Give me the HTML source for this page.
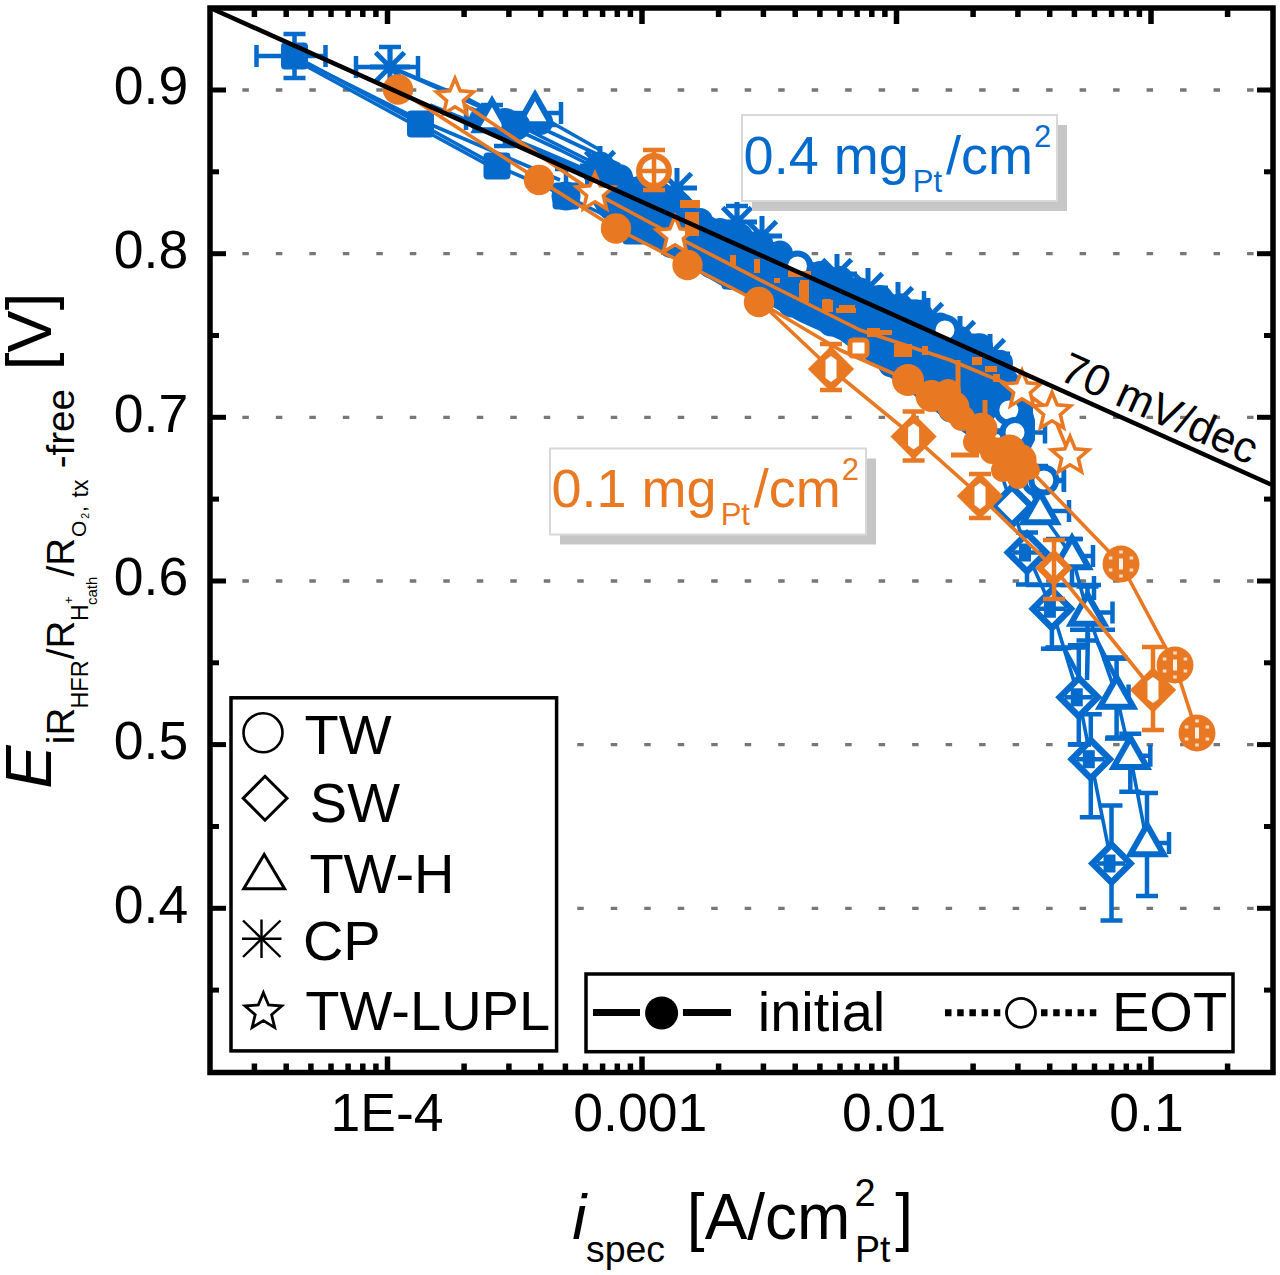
<!DOCTYPE html>
<html><head><meta charset="utf-8"><style>
html,body{margin:0;padding:0;background:#fff;}
svg{display:block;}
</style></head><body>
<svg width="1280" height="1275" viewBox="0 0 1280 1275">
<rect width="1280" height="1275" fill="#fff"/>
<line x1="242.35" y1="908.3" x2="1255" y2="908.3" stroke="#777" stroke-width="3.3" stroke-dasharray="6.5 26.99"/>
<line x1="242.35" y1="744.6" x2="1255" y2="744.6" stroke="#777" stroke-width="3.3" stroke-dasharray="6.5 26.99"/>
<line x1="242.35" y1="581.0" x2="1255" y2="581.0" stroke="#777" stroke-width="3.3" stroke-dasharray="6.5 26.99"/>
<line x1="242.35" y1="417.3" x2="1255" y2="417.3" stroke="#777" stroke-width="3.3" stroke-dasharray="6.5 26.99"/>
<line x1="242.35" y1="253.7" x2="1255" y2="253.7" stroke="#777" stroke-width="3.3" stroke-dasharray="6.5 26.99"/>
<line x1="242.35" y1="90.0" x2="1255" y2="90.0" stroke="#777" stroke-width="3.3" stroke-dasharray="6.5 26.99"/>
<path d="M585,175 L600,160 L640,180 L680,199 L720,221 L760,234 L800,257 L850,276 L900,297 L950,323 L1000,352 L1025,385 L1035,420 L1035,440 L1020,470 L995,455 L960,430 L920,400 L880,370 L840,340 L800,322 L760,300 L720,285 L680,262 L640,240 L600,215 L585,190 Z" fill="#046bcc"/>
<circle cx="600" cy="166.4" r="13" fill="#046bcc"/>
<circle cx="611" cy="207.3" r="13" fill="#046bcc"/>
<circle cx="620" cy="177.2" r="13" fill="#046bcc"/>
<circle cx="631" cy="220.1" r="13" fill="#046bcc"/>
<circle cx="640" cy="188.8" r="13" fill="#046bcc"/>
<circle cx="651" cy="229.4" r="13" fill="#046bcc"/>
<circle cx="660" cy="194.6" r="13" fill="#046bcc"/>
<circle cx="671" cy="245.0" r="13" fill="#046bcc"/>
<circle cx="680" cy="205.6" r="13" fill="#046bcc"/>
<circle cx="691" cy="252.4" r="13" fill="#046bcc"/>
<circle cx="700" cy="221.0" r="13" fill="#046bcc"/>
<circle cx="711" cy="265.3" r="13" fill="#046bcc"/>
<circle cx="720" cy="231.0" r="13" fill="#046bcc"/>
<circle cx="731" cy="276.9" r="13" fill="#046bcc"/>
<circle cx="740" cy="236.3" r="13" fill="#046bcc"/>
<circle cx="751" cy="282.4" r="13" fill="#046bcc"/>
<circle cx="760" cy="242.8" r="13" fill="#046bcc"/>
<circle cx="771" cy="294.2" r="13" fill="#046bcc"/>
<circle cx="780" cy="253.6" r="13" fill="#046bcc"/>
<circle cx="791" cy="304.4" r="13" fill="#046bcc"/>
<circle cx="800" cy="266.0" r="13" fill="#046bcc"/>
<circle cx="811" cy="311.4" r="13" fill="#046bcc"/>
<circle cx="820" cy="274.1" r="13" fill="#046bcc"/>
<circle cx="831" cy="323.5" r="13" fill="#046bcc"/>
<circle cx="840" cy="279.0" r="13" fill="#046bcc"/>
<circle cx="851" cy="329.2" r="13" fill="#046bcc"/>
<circle cx="860" cy="290.4" r="13" fill="#046bcc"/>
<circle cx="871" cy="346.8" r="13" fill="#046bcc"/>
<circle cx="880" cy="297.9" r="13" fill="#046bcc"/>
<circle cx="891" cy="364.3" r="13" fill="#046bcc"/>
<circle cx="900" cy="306.3" r="13" fill="#046bcc"/>
<circle cx="911" cy="379.5" r="13" fill="#046bcc"/>
<circle cx="920" cy="314.8" r="13" fill="#046bcc"/>
<circle cx="931" cy="393.8" r="13" fill="#046bcc"/>
<circle cx="940" cy="325.5" r="13" fill="#046bcc"/>
<circle cx="951" cy="409.6" r="13" fill="#046bcc"/>
<circle cx="960" cy="339.1" r="13" fill="#046bcc"/>
<circle cx="971" cy="419.6" r="13" fill="#046bcc"/>
<circle cx="980" cy="346.2" r="13" fill="#046bcc"/>
<circle cx="991" cy="434.6" r="13" fill="#046bcc"/>
<circle cx="1000" cy="362.8" r="13" fill="#046bcc"/>
<circle cx="1011" cy="449.6" r="13" fill="#046bcc"/>
<path d="M294.5,56.0 L420.5,124.0 L497.0,166.0 L566.0,196.0 L636.0,231.0 L735.0,276.0" fill="none" stroke="#046bcc" stroke-width="3.6" stroke-linejoin="round"/>
<path d="M256.5,56.0 L294.5,56.0 M256.5,45.0 L256.5,67.0 M294.5,56.0 L325.5,56.0 M325.5,45.0 L325.5,67.0 M294.5,56.0 L294.5,34.0 M283.5,34.0 L305.5,34.0 M294.5,56.0 L294.5,78.0 M283.5,78.0 L305.5,78.0" fill="none" stroke="#046bcc" stroke-width="4.5"/>
<rect x="281.0" y="42.5" width="27.0" height="27.0" rx="4" fill="#046bcc"/>
<rect x="407.0" y="110.5" width="27.0" height="27.0" rx="4" fill="#046bcc"/>
<rect x="483.5" y="152.5" width="27.0" height="27.0" rx="4" fill="#046bcc"/>
<rect x="552.5" y="182.5" width="27.0" height="27.0" rx="4" fill="#046bcc"/>
<rect x="622.5" y="217.5" width="27.0" height="27.0" rx="4" fill="#046bcc"/>
<rect x="721.5" y="262.5" width="27.0" height="27.0" rx="4" fill="#046bcc"/>
<path d="M300.0,60.0 L420.0,120.0 L560.0,180.0" fill="none" stroke="#046bcc" stroke-width="3.6" stroke-linejoin="round"/>
<path d="M390.0,67.0 L470.0,100.0 L512.0,122.0 L600.0,166.0" fill="none" stroke="#046bcc" stroke-width="3.6" stroke-linejoin="round"/>
<path d="M390.0,67.0 L492.0,112.0 L535.0,113.0 L600.0,150.0" fill="none" stroke="#046bcc" stroke-width="3.6" stroke-linejoin="round"/>
<path d="M295.0,60.0 L497.0,170.0" fill="none" stroke="#046bcc" stroke-width="3.6" stroke-linejoin="round"/>
<path d="M470.0,108.0 L560.0,150.0 L640.0,190.0" fill="none" stroke="#046bcc" stroke-width="3.6" stroke-linejoin="round"/>
<path d="M480.0,125.0 L600.0,180.0 L700.0,225.0" fill="none" stroke="#046bcc" stroke-width="3.6" stroke-linejoin="round"/>
<path d="M520.0,118.0 L620.0,165.0" fill="none" stroke="#046bcc" stroke-width="3.6" stroke-linejoin="round"/>
<path d="M430.0,105.0 L540.0,150.0 L610.0,180.0" fill="none" stroke="#046bcc" stroke-width="3.6" stroke-linejoin="round"/>
<circle cx="505.0" cy="124.0" r="16.0" fill="#046bcc"/>
<circle cx="482.0" cy="120.0" r="13.1" fill="#046bcc"/>
<circle cx="540.0" cy="122.0" r="13.1" fill="#046bcc"/>
<path d="M466.0,119.0 L492.0,119.0 M466.0,108.0 L466.0,130.0 M492.0,119.0 L492.0,105.0 M481.0,105.0 L503.0,105.0" fill="none" stroke="#046bcc" stroke-width="4.5"/>
<path d="M535.0,113.0 L561.0,113.0 M561.0,102.0 L561.0,124.0 M535.0,113.0 L535.0,127.0 M524.0,127.0 L546.0,127.0" fill="none" stroke="#046bcc" stroke-width="4.5"/>
<path d="M492.0,101.0 L508.6,130.2 L475.4,130.2 Z" fill="#fff" stroke="#046bcc" stroke-width="6" stroke-linejoin="miter"/>
<path d="M535.0,95.0 L551.6,124.2 L518.4,124.2 Z" fill="#fff" stroke="#046bcc" stroke-width="6" stroke-linejoin="miter"/>
<circle cx="516.0" cy="126.0" r="14.5" fill="#046bcc"/>
<path d="M505.0,124.0 L505.0,146.0 M494.0,146.0 L516.0,146.0" fill="none" stroke="#046bcc" stroke-width="4.5"/>
<circle cx="600.0" cy="166.0" r="14.5" fill="#046bcc"/>
<path d="M600.0,146.0 L600.0,186.0 M580.0,166.0 L620.0,166.0 M585.6,151.6 L614.4,180.4 M585.6,180.4 L614.4,151.6" stroke="#046bcc" stroke-width="5"/>
<circle cx="566.0" cy="196.0" r="14.5" fill="#046bcc"/>
<path d="M566.0,196.0 L566.0,169.0 M555.0,169.0 L577.0,169.0" fill="none" stroke="#046bcc" stroke-width="4.5"/>
<path d="M356.0,67.0 L390.0,67.0 M356.0,56.0 L356.0,78.0 M390.0,67.0 L418.0,67.0 M418.0,56.0 L418.0,78.0 M390.0,67.0 L390.0,47.0 M379.0,47.0 L401.0,47.0" fill="none" stroke="#046bcc" stroke-width="4.5"/>
<path d="M390.0,47.0 L390.0,87.0 M370.0,67.0 L410.0,67.0 M375.6,52.6 L404.4,81.4 M375.6,81.4 L404.4,52.6" stroke="#046bcc" stroke-width="5"/>
<path d="M677.0,168.0 L677.0,208.0 M657.0,188.0 L697.0,188.0 M662.6,173.6 L691.4,202.4 M662.6,202.4 L691.4,173.6" stroke="#046bcc" stroke-width="5"/>
<path d="M737.0,202.0 L737.0,242.0 M717.0,222.0 L757.0,222.0 M722.6,207.6 L751.4,236.4 M722.6,236.4 L751.4,207.6" stroke="#046bcc" stroke-width="5"/>
<path d="M762.0,216.0 L762.0,256.0 M742.0,236.0 L782.0,236.0 M747.6,221.6 L776.4,250.4 M747.6,250.4 L776.4,221.6" stroke="#046bcc" stroke-width="5"/>
<path d="M837.0,254.0 L837.0,294.0 M817.0,274.0 L857.0,274.0 M822.6,259.6 L851.4,288.4 M822.6,288.4 L851.4,259.6" stroke="#046bcc" stroke-width="5"/>
<path d="M868.0,268.0 L868.0,308.0 M848.0,288.0 L888.0,288.0 M853.6,273.6 L882.4,302.4 M853.6,302.4 L882.4,273.6" stroke="#046bcc" stroke-width="5"/>
<path d="M898.0,282.0 L898.0,322.0 M878.0,302.0 L918.0,302.0 M883.6,287.6 L912.4,316.4 M883.6,316.4 L912.4,287.6" stroke="#046bcc" stroke-width="5"/>
<path d="M928.0,298.0 L928.0,338.0 M908.0,318.0 L948.0,318.0 M913.6,303.6 L942.4,332.4 M913.6,332.4 L942.4,303.6" stroke="#046bcc" stroke-width="5"/>
<path d="M960.0,316.0 L960.0,356.0 M940.0,336.0 L980.0,336.0 M945.6,321.6 L974.4,350.4 M945.6,350.4 L974.4,321.6" stroke="#046bcc" stroke-width="5"/>
<path d="M990.0,334.0 L990.0,374.0 M970.0,354.0 L1010.0,354.0 M975.6,339.6 L1004.4,368.4 M975.6,368.4 L1004.4,339.6" stroke="#046bcc" stroke-width="5"/>
<path d="M872.0,302.0 L898.0,302.0 M872.0,291.0 L872.0,313.0 M898.0,302.0 L924.0,302.0 M924.0,291.0 L924.0,313.0" fill="none" stroke="#046bcc" stroke-width="4.5"/>
<path d="M737.0,222.0 L737.0,206.0 M726.0,206.0 L748.0,206.0" fill="none" stroke="#046bcc" stroke-width="4.5"/>
<circle cx="797.5" cy="266.0" r="12.5" fill="#fff" stroke="#046bcc" stroke-width="6"/>
<circle cx="945.0" cy="330.0" r="12.5" fill="#fff" stroke="#046bcc" stroke-width="6"/>
<path d="M990.0,440.0 L1012.0,506.0 L1027.0,552.5 L1051.9,608.8 L1078.8,697.3 L1090.8,759.2 L1111.5,863.5" fill="none" stroke="#046bcc" stroke-width="3.6" stroke-linejoin="round"/>
<path d="M1027.0,552.5 L1027.0,532.5 M1016.0,532.5 L1038.0,532.5 M1027.0,552.5 L1027.0,584.5 M1016.0,584.5 L1038.0,584.5" fill="none" stroke="#046bcc" stroke-width="4.5"/>
<path d="M1051.9,608.8 L1051.9,558.8 M1040.9,558.8 L1062.9,558.8 M1051.9,608.8 L1051.9,648.8 M1040.9,648.8 L1062.9,648.8" fill="none" stroke="#046bcc" stroke-width="4.5"/>
<path d="M1078.8,697.3 L1078.8,645.3 M1067.8,645.3 L1089.8,645.3 M1078.8,697.3 L1078.8,744.3 M1067.8,744.3 L1089.8,744.3" fill="none" stroke="#046bcc" stroke-width="4.5"/>
<path d="M1090.8,759.2 L1090.8,714.2 M1079.8,714.2 L1101.8,714.2 M1090.8,759.2 L1090.8,817.2 M1079.8,817.2 L1101.8,817.2" fill="none" stroke="#046bcc" stroke-width="4.5"/>
<path d="M1111.5,863.5 L1111.5,805.5 M1100.5,805.5 L1122.5,805.5 M1111.5,863.5 L1111.5,920.5 M1100.5,920.5 L1122.5,920.5" fill="none" stroke="#046bcc" stroke-width="4.5"/>
<path d="M990.0,421.0 L1009.0,440.0 L990.0,459.0 L971.0,440.0 Z" fill="#fff" stroke="#046bcc" stroke-width="6.5" stroke-linejoin="miter"/>
<path d="M1012.0,487.0 L1031.0,506.0 L1012.0,525.0 L993.0,506.0 Z" fill="#fff" stroke="#046bcc" stroke-width="6.5" stroke-linejoin="miter"/>
<path d="M1027.0,533.5 L1046.0,552.5 L1027.0,571.5 L1008.0,552.5 Z" fill="#fff" stroke="#046bcc" stroke-width="6.5" stroke-linejoin="miter"/>
<path d="M1051.9,589.8 L1070.9,608.8 L1051.9,627.8 L1032.9,608.8 Z" fill="#fff" stroke="#046bcc" stroke-width="6.5" stroke-linejoin="miter"/>
<path d="M1078.8,678.3 L1097.8,697.3 L1078.8,716.3 L1059.8,697.3 Z" fill="#fff" stroke="#046bcc" stroke-width="6.5" stroke-linejoin="miter"/>
<path d="M1090.8,740.2 L1109.8,759.2 L1090.8,778.2 L1071.8,759.2 Z" fill="#fff" stroke="#046bcc" stroke-width="6.5" stroke-linejoin="miter"/>
<path d="M1111.5,844.5 L1130.5,863.5 L1111.5,882.5 L1092.5,863.5 Z" fill="#fff" stroke="#046bcc" stroke-width="6.5" stroke-linejoin="miter"/>
<path d="M1013.0,552.5 L1027.0,552.5 M1013.0,552.5 L1013.0,552.5 M1027.0,552.5 L1041.0,552.5 M1041.0,552.5 L1041.0,552.5" fill="none" stroke="#046bcc" stroke-width="4.5"/>
<rect x="1019" y="543.5" width="12" height="18" fill="#046bcc"/>
<path d="M1037.9,608.8 L1051.9,608.8 M1037.9,608.8 L1037.9,608.8 M1051.9,608.8 L1065.9,608.8 M1065.9,608.8 L1065.9,608.8" fill="none" stroke="#046bcc" stroke-width="4.5"/>
<rect x="1043.9" y="599.75" width="12" height="18" fill="#046bcc"/>
<path d="M1064.8,697.3 L1078.8,697.3 M1064.8,697.3 L1064.8,697.3 M1078.8,697.3 L1092.8,697.3 M1092.8,697.3 L1092.8,697.3" fill="none" stroke="#046bcc" stroke-width="4.5"/>
<rect x="1070.75" y="688.3" width="12" height="18" fill="#046bcc"/>
<path d="M1076.8,759.2 L1090.8,759.2 M1076.8,759.2 L1076.8,759.2 M1090.8,759.2 L1104.8,759.2 M1104.8,759.2 L1104.8,759.2" fill="none" stroke="#046bcc" stroke-width="4.5"/>
<rect x="1082.8" y="750.2" width="12" height="18" fill="#046bcc"/>
<path d="M1097.5,863.5 L1111.5,863.5 M1097.5,863.5 L1097.5,863.5 M1111.5,863.5 L1125.5,863.5 M1125.5,863.5 L1125.5,863.5" fill="none" stroke="#046bcc" stroke-width="4.5"/>
<rect x="1103.5" y="854.5" width="12" height="18" fill="#046bcc"/>
<path d="M1000.0,420.0 L1040.0,511.0 L1072.0,556.0 L1087.5,612.5 L1116.6,695.6 L1130.3,755.8 L1147.0,843.0" fill="none" stroke="#046bcc" stroke-width="3.6" stroke-linejoin="round"/>
<path d="M1040.0,511.0 L1069.0,511.0 M1069.0,500.0 L1069.0,522.0" fill="none" stroke="#046bcc" stroke-width="4.5"/>
<path d="M1072.0,556.0 L1093.0,556.0 M1093.0,545.0 L1093.0,567.0 M1072.0,556.0 L1072.0,539.0 M1061.0,539.0 L1083.0,539.0 M1072.0,556.0 L1072.0,585.0 M1061.0,585.0 L1083.0,585.0" fill="none" stroke="#046bcc" stroke-width="4.5"/>
<path d="M1087.5,612.5 L1112.5,612.5 M1112.5,601.5 L1112.5,623.5 M1087.5,612.5 L1087.5,586.5 M1076.5,586.5 L1098.5,586.5 M1087.5,612.5 L1087.5,640.5 M1076.5,640.5 L1098.5,640.5" fill="none" stroke="#046bcc" stroke-width="4.5"/>
<path d="M1116.6,695.6 L1128.6,695.6 M1128.6,684.6 L1128.6,706.6 M1116.6,695.6 L1116.6,657.6 M1105.6,657.6 L1127.6,657.6 M1116.6,695.6 L1116.6,737.6 M1105.6,737.6 L1127.6,737.6" fill="none" stroke="#046bcc" stroke-width="4.5"/>
<path d="M1130.3,755.8 L1150.3,755.8 M1150.3,744.8 L1150.3,766.8 M1130.3,755.8 L1130.3,733.8 M1119.3,733.8 L1141.3,733.8 M1130.3,755.8 L1130.3,791.8 M1119.3,791.8 L1141.3,791.8" fill="none" stroke="#046bcc" stroke-width="4.5"/>
<path d="M1147.0,843.0 L1169.0,843.0 M1169.0,832.0 L1169.0,854.0 M1147.0,843.0 L1147.0,793.0 M1136.0,793.0 L1158.0,793.0 M1147.0,843.0 L1147.0,896.0 M1136.0,896.0 L1158.0,896.0" fill="none" stroke="#046bcc" stroke-width="4.5"/>
<path d="M1000.0,402.0 L1016.6,431.2 L983.4,431.2 Z" fill="#fff" stroke="#046bcc" stroke-width="6" stroke-linejoin="miter"/>
<path d="M1040.0,493.0 L1056.6,522.2 L1023.4,522.2 Z" fill="#fff" stroke="#046bcc" stroke-width="6" stroke-linejoin="miter"/>
<path d="M1072.0,538.0 L1088.6,567.2 L1055.4,567.2 Z" fill="#fff" stroke="#046bcc" stroke-width="6" stroke-linejoin="miter"/>
<path d="M1087.5,594.5 L1104.1,623.7 L1070.9,623.7 Z" fill="#fff" stroke="#046bcc" stroke-width="6" stroke-linejoin="miter"/>
<path d="M1116.6,677.6 L1133.2,706.8 L1100.0,706.8 Z" fill="#fff" stroke="#046bcc" stroke-width="6" stroke-linejoin="miter"/>
<path d="M1130.3,737.8 L1146.9,767.0 L1113.7,767.0 Z" fill="#fff" stroke="#046bcc" stroke-width="6" stroke-linejoin="miter"/>
<path d="M1147.0,825.0 L1163.6,854.2 L1130.4,854.2 Z" fill="#fff" stroke="#046bcc" stroke-width="6" stroke-linejoin="miter"/>
<path d="M985.0,392.0 L1008.8,410.0" fill="none" stroke="#046bcc" stroke-width="3.6" stroke-linejoin="round"/>
<circle cx="985.0" cy="392.0" r="14.5" fill="#046bcc"/>
<path d="M1008.8,410.0 L1015.0,432.5 L1037.0,481.0 L1043.8,480.0" fill="none" stroke="#046bcc" stroke-width="3.6" stroke-linejoin="round"/>
<path d="M1008.8,410.0 L1030.8,410.0 M1030.8,399.0 L1030.8,421.0" fill="none" stroke="#046bcc" stroke-width="4.5"/>
<path d="M1015.0,432.5 L1045.0,432.5 M1045.0,421.5 L1045.0,443.5" fill="none" stroke="#046bcc" stroke-width="4.5"/>
<path d="M1037.0,481.0 L1064.0,481.0 M1064.0,470.0 L1064.0,492.0 M1037.0,481.0 L1037.0,466.0 M1026.0,466.0 L1048.0,466.0" fill="none" stroke="#046bcc" stroke-width="4.5"/>
<path d="M1043.8,480.0 L1063.8,480.0 M1063.8,469.0 L1063.8,491.0" fill="none" stroke="#046bcc" stroke-width="4.5"/>
<circle cx="1008.8" cy="410.0" r="12.5" fill="#fff" stroke="#046bcc" stroke-width="6"/>
<circle cx="1015.0" cy="432.5" r="12.5" fill="#fff" stroke="#046bcc" stroke-width="6"/>
<circle cx="1037.0" cy="481.0" r="12.5" fill="#fff" stroke="#046bcc" stroke-width="6"/>
<circle cx="1043.8" cy="480.0" r="12.5" fill="#fff" stroke="#046bcc" stroke-width="6"/>
<line x1="1026" y1="585" x2="1101" y2="585" stroke="#046bcc" stroke-width="4.5"/>
<line x1="1046" y1="539" x2="1082" y2="539" stroke="#046bcc" stroke-width="4.5"/>
<line x1="1046" y1="647.5" x2="1089" y2="647.5" stroke="#046bcc" stroke-width="4.5"/>
<line x1="1104" y1="658.7" x2="1127" y2="658.7" stroke="#046bcc" stroke-width="4.5"/>
<line x1="1068" y1="744.6" x2="1091" y2="744.6" stroke="#046bcc" stroke-width="4.5"/>
<line x1="1105" y1="738.6" x2="1130" y2="738.6" stroke="#046bcc" stroke-width="4.5"/>
<line x1="1045" y1="648" x2="1071" y2="648" stroke="#046bcc" stroke-width="4.5"/>
<line x1="1070" y1="629.7" x2="1115" y2="629.7" stroke="#046bcc" stroke-width="4.5"/>
<line x1="1102" y1="658" x2="1127" y2="658" stroke="#046bcc" stroke-width="4.5"/>
<line x1="1065" y1="650" x2="1081" y2="680" stroke="#046bcc" stroke-width="4.5"/>
<line x1="1096" y1="639" x2="1117" y2="680" stroke="#046bcc" stroke-width="4.5"/>
<line x1="1088" y1="633" x2="1087" y2="680" stroke="#046bcc" stroke-width="4.5"/>
<line x1="1055" y1="569" x2="1055" y2="585" stroke="#046bcc" stroke-width="4.5"/>
<line x1="1094" y1="576" x2="1094" y2="600" stroke="#046bcc" stroke-width="4.5"/>
<path d="M398.0,89.5 L539.0,180.0 L616.0,228.5 L687.5,265.0 L759.0,302.0" fill="none" stroke="#e97823" stroke-width="3.6" stroke-linejoin="round"/>
<circle cx="398.0" cy="89.5" r="15.2" fill="#e97823"/>
<circle cx="539.0" cy="180.0" r="15.2" fill="#e97823"/>
<circle cx="616.0" cy="228.5" r="15.2" fill="#e97823"/>
<circle cx="687.5" cy="265.0" r="15.2" fill="#e97823"/>
<circle cx="759.0" cy="302.0" r="15.2" fill="#e97823"/>
<path d="M759.0,302.0 L840.0,350.0 L908.0,380.0" fill="none" stroke="#e97823" stroke-width="3.6" stroke-linejoin="round"/>
<path d="M908.0,380.0 L931.5,396.0 L953.4,407.0 L981.5,428.8 L1009.7,450.6 L1020.6,460.0" fill="none" stroke="#e97823" stroke-width="3.6" stroke-linejoin="round"/>
<circle cx="908.0" cy="380.0" r="16.0" fill="#e97823"/>
<circle cx="931.5" cy="396.0" r="16.0" fill="#e97823"/>
<circle cx="953.4" cy="407.0" r="16.0" fill="#e97823"/>
<circle cx="981.5" cy="428.8" r="16.0" fill="#e97823"/>
<circle cx="1009.7" cy="450.6" r="16.0" fill="#e97823"/>
<circle cx="1020.6" cy="460.0" r="16.0" fill="#e97823"/>
<circle cx="948" cy="392" r="13" fill="#e97823"/>
<circle cx="962" cy="418" r="13" fill="#e97823"/>
<circle cx="975" cy="442" r="12" fill="#e97823"/>
<circle cx="992" cy="452" r="12" fill="#e97823"/>
<circle cx="1003" cy="470" r="12" fill="#e97823"/>
<circle cx="1018" cy="478" r="11" fill="#e97823"/>
<circle cx="1030" cy="470" r="10" fill="#e97823"/>
<rect x="955.5" y="360.0" width="5" height="40" fill="#e97823"/>
<rect x="982.5" y="400.0" width="5" height="40" fill="#e97823"/>
<rect x="990.0" y="437.5" width="20" height="5" fill="#e97823"/>
<rect x="999.0" y="467.5" width="22" height="5" fill="#e97823"/>
<rect x="951.0" y="452.5" width="28" height="5" fill="#e97823"/>
<path d="M1020.6,460.0 L1121.0,564.0 L1175.0,665.0 L1197.0,733.0" fill="none" stroke="#e97823" stroke-width="3.6" stroke-linejoin="round"/>
<circle cx="1121" cy="564" r="18.5" fill="#e97823"/>
<rect x="1119" y="558.5" width="4" height="11" fill="#fff" opacity="0.9"/>
<rect x="1129.6" y="568.5" width="3.6" height="3" fill="#fff" opacity="0.75"/>
<rect x="1119.2" y="574.5" width="3.6" height="3" fill="#fff" opacity="0.75"/>
<rect x="1108.8" y="568.5" width="3.6" height="3" fill="#fff" opacity="0.75"/>
<rect x="1108.8" y="556.5" width="3.6" height="3" fill="#fff" opacity="0.75"/>
<rect x="1119.2" y="550.5" width="3.6" height="3" fill="#fff" opacity="0.75"/>
<rect x="1129.6" y="556.5" width="3.6" height="3" fill="#fff" opacity="0.75"/>
<circle cx="1175" cy="665" r="18.5" fill="#e97823"/>
<rect x="1173" y="659.5" width="4" height="11" fill="#fff" opacity="0.9"/>
<rect x="1183.6" y="669.5" width="3.6" height="3" fill="#fff" opacity="0.75"/>
<rect x="1173.2" y="675.5" width="3.6" height="3" fill="#fff" opacity="0.75"/>
<rect x="1162.8" y="669.5" width="3.6" height="3" fill="#fff" opacity="0.75"/>
<rect x="1162.8" y="657.5" width="3.6" height="3" fill="#fff" opacity="0.75"/>
<rect x="1173.2" y="651.5" width="3.6" height="3" fill="#fff" opacity="0.75"/>
<rect x="1183.6" y="657.5" width="3.6" height="3" fill="#fff" opacity="0.75"/>
<circle cx="1197" cy="733" r="18.5" fill="#e97823"/>
<rect x="1195" y="727.5" width="4" height="11" fill="#fff" opacity="0.9"/>
<rect x="1205.6" y="737.5" width="3.6" height="3" fill="#fff" opacity="0.75"/>
<rect x="1195.2" y="743.5" width="3.6" height="3" fill="#fff" opacity="0.75"/>
<rect x="1184.8" y="737.5" width="3.6" height="3" fill="#fff" opacity="0.75"/>
<rect x="1184.8" y="725.5" width="3.6" height="3" fill="#fff" opacity="0.75"/>
<rect x="1195.2" y="719.5" width="3.6" height="3" fill="#fff" opacity="0.75"/>
<rect x="1205.6" y="725.5" width="3.6" height="3" fill="#fff" opacity="0.75"/>
<path d="M760.0,302.0 L831.0,369.0" fill="none" stroke="#e97823" stroke-width="3.6" stroke-linejoin="round"/>
<path d="M980.0,496.0 L1054.0,568.0 L1153.0,690.0" fill="none" stroke="#e97823" stroke-width="3.6" stroke-linejoin="round"/>
<path d="M831.0,369.0 L913.6,436.6 L980.0,496.0" fill="none" stroke="#e97823" stroke-width="3.6" stroke-linejoin="round"/>
<path d="M831.0,369.0 L831.0,344.0 M820.0,344.0 L842.0,344.0 M831.0,369.0 L831.0,390.0 M820.0,390.0 L842.0,390.0" fill="none" stroke="#e97823" stroke-width="4.5"/>
<path d="M913.6,436.6 L913.6,411.6 M902.6,411.6 L924.6,411.6 M913.6,436.6 L913.6,460.6 M902.6,460.6 L924.6,460.6" fill="none" stroke="#e97823" stroke-width="4.5"/>
<path d="M980.0,496.0 L980.0,474.0 M969.0,474.0 L991.0,474.0 M980.0,496.0 L980.0,518.0 M969.0,518.0 L991.0,518.0" fill="none" stroke="#e97823" stroke-width="4.5"/>
<path d="M831.0,348.0 L852.0,369.0 L831.0,390.0 L810.0,369.0 Z" fill="#e97823" stroke="#e97823" stroke-width="3" stroke-linejoin="miter"/>
<path d="M825.5,360.0 L831.0,356.0 L836.5,360.0 L836.5,378.0 L831.0,382.0 L825.5,378.0 Z" fill="#fff"/>
<path d="M913.6,415.6 L934.6,436.6 L913.6,457.6 L892.6,436.6 Z" fill="#e97823" stroke="#e97823" stroke-width="3" stroke-linejoin="miter"/>
<path d="M908.1,427.6 L913.6,423.6 L919.1,427.6 L919.1,445.6 L913.6,449.6 L908.1,445.6 Z" fill="#fff"/>
<path d="M980.0,475.0 L1001.0,496.0 L980.0,517.0 L959.0,496.0 Z" fill="#e97823" stroke="#e97823" stroke-width="3" stroke-linejoin="miter"/>
<path d="M974.5,487.0 L980.0,483.0 L985.5,487.0 L985.5,505.0 L980.0,509.0 L974.5,505.0 Z" fill="#fff"/>
<path d="M1054.0,553.8 L1068.2,568.0 L1054.0,582.2 L1039.8,568.0 Z" fill="#fff" stroke="#e97823" stroke-width="6.5" stroke-linejoin="miter"/>
<path d="M1054.0,568.0 L1054.0,540.0 M1043.0,540.0 L1065.0,540.0 M1054.0,568.0 L1054.0,599.0 M1043.0,599.0 L1065.0,599.0" fill="none" stroke="#e97823" stroke-width="4.5"/>
<path d="M1153.0,690.0 L1153.0,647.0 M1142.0,647.0 L1164.0,647.0 M1153.0,690.0 L1153.0,730.0 M1142.0,730.0 L1164.0,730.0" fill="none" stroke="#e97823" stroke-width="4.5"/>
<path d="M1153.0,669.0 L1174.0,690.0 L1153.0,711.0 L1132.0,690.0 Z" fill="#e97823" stroke="#e97823" stroke-width="3" stroke-linejoin="miter"/>
<path d="M1147.5,681.0 L1153.0,677.0 L1158.5,681.0 L1158.5,699.0 L1153.0,703.0 L1147.5,699.0 Z" fill="#fff"/>
<path d="M455.0,98.0 L595.0,193.0 L675.0,236.0 L770.0,285.0 L860.0,330.0 L950.0,360.0 L1022.0,390.0 L1052.0,412.0 L1070.0,456.0" fill="none" stroke="#e97823" stroke-width="3.6" stroke-linejoin="round"/>
<path d="M455.0,78.5 L460.2,90.9 L473.5,92.0 L463.4,100.7 L466.5,113.8 L455.0,106.8 L443.5,113.8 L446.6,100.7 L436.5,92.0 L449.8,90.9 Z" fill="#fff" stroke="#e97823" stroke-width="3.6"/>
<path d="M595.0,173.5 L600.2,185.9 L613.5,187.0 L603.4,195.7 L606.5,208.8 L595.0,201.8 L583.5,208.8 L586.6,195.7 L576.5,187.0 L589.8,185.9 Z" fill="#fff" stroke="#e97823" stroke-width="3.6"/>
<path d="M675.0,216.5 L680.2,228.9 L693.5,230.0 L683.4,238.7 L686.5,251.8 L675.0,244.8 L663.5,251.8 L666.6,238.7 L656.5,230.0 L669.8,228.9 Z" fill="#fff" stroke="#e97823" stroke-width="3.6"/>
<path d="M1022.0,370.5 L1027.2,382.9 L1040.5,384.0 L1030.4,392.7 L1033.5,405.8 L1022.0,398.8 L1010.5,405.8 L1013.6,392.7 L1003.5,384.0 L1016.8,382.9 Z" fill="#fff" stroke="#e97823" stroke-width="3.6"/>
<path d="M1052.0,392.5 L1057.2,404.9 L1070.5,406.0 L1060.4,414.7 L1063.5,427.8 L1052.0,420.8 L1040.5,427.8 L1043.6,414.7 L1033.5,406.0 L1046.8,404.9 Z" fill="#fff" stroke="#e97823" stroke-width="3.6"/>
<path d="M1070.0,436.5 L1075.2,448.9 L1088.5,450.0 L1078.4,458.7 L1081.5,471.8 L1070.0,464.8 L1058.5,471.8 L1061.6,458.7 L1051.5,450.0 L1064.8,448.9 Z" fill="#fff" stroke="#e97823" stroke-width="3.6"/>
<circle cx="654.0" cy="171.0" r="15.0" fill="#fff" stroke="#e97823" stroke-width="6"/>
<path d="M654.0,171.0 L654.0,150.0 M643.0,150.0 L665.0,150.0 M654.0,171.0 L654.0,190.0 M643.0,190.0 L665.0,190.0" fill="none" stroke="#e97823" stroke-width="4.5"/>
<path d="M641.0,171.0 L654.0,171.0 M641.0,171.0 L641.0,171.0 M654.0,171.0 L667.0,171.0 M667.0,171.0 L667.0,171.0" fill="none" stroke="#e97823" stroke-width="4.5"/>
<rect x="680" y="200" width="20" height="8" fill="#e97823"/>
<rect x="685" y="212" width="14" height="24" fill="#e97823"/>
<rect x="730" y="255" width="6" height="10" fill="#e97823"/>
<rect x="754" y="259" width="6" height="14" fill="#e97823"/>
<rect x="774" y="278" width="6" height="5" fill="#e97823"/>
<rect x="788" y="271" width="23" height="6" fill="#e97823"/>
<rect x="799" y="283" width="6" height="18" fill="#e97823"/>
<rect x="822" y="300" width="11" height="12" fill="#e97823"/>
<rect x="836" y="308" width="20" height="5" fill="#e97823"/>
<rect x="867" y="328" width="13" height="9" fill="#e97823"/>
<rect x="800" y="280" width="9" height="22" fill="#e97823"/>
<rect x="823" y="299" width="8" height="12" fill="#e97823"/>
<rect x="839" y="305" width="16" height="7" fill="#e97823"/>
<rect x="870" y="330" width="22" height="5" fill="#e97823"/>
<rect x="894" y="344" width="18" height="13" fill="#e97823"/>
<rect x="922" y="346" width="6" height="9" fill="#e97823"/>
<rect x="972" y="357" width="10" height="8" fill="#e97823"/>
<rect x="985" y="366" width="12" height="6" fill="#e97823"/>
<rect x="993" y="374" width="7" height="8" fill="#e97823"/>
<rect x="850" y="340" width="17" height="16" rx="3" fill="#fff" stroke="#e97823" stroke-width="5"/>
<line x1="212" y1="8.7" x2="1271" y2="484.5" stroke="#000" stroke-width="4.5"/>
<rect x="210" y="8" width="1063" height="1064.5" fill="none" stroke="#000" stroke-width="5.5"/>
<line x1="210" y1="908.3" x2="226" y2="908.3" stroke="#000" stroke-width="5"/>
<line x1="1273" y1="908.3" x2="1257" y2="908.3" stroke="#000" stroke-width="5"/>
<line x1="210" y1="744.6" x2="226" y2="744.6" stroke="#000" stroke-width="5"/>
<line x1="1273" y1="744.6" x2="1257" y2="744.6" stroke="#000" stroke-width="5"/>
<line x1="210" y1="581.0" x2="226" y2="581.0" stroke="#000" stroke-width="5"/>
<line x1="1273" y1="581.0" x2="1257" y2="581.0" stroke="#000" stroke-width="5"/>
<line x1="210" y1="417.3" x2="226" y2="417.3" stroke="#000" stroke-width="5"/>
<line x1="1273" y1="417.3" x2="1257" y2="417.3" stroke="#000" stroke-width="5"/>
<line x1="210" y1="253.7" x2="226" y2="253.7" stroke="#000" stroke-width="5"/>
<line x1="1273" y1="253.7" x2="1257" y2="253.7" stroke="#000" stroke-width="5"/>
<line x1="210" y1="90.0" x2="226" y2="90.0" stroke="#000" stroke-width="5"/>
<line x1="1273" y1="90.0" x2="1257" y2="90.0" stroke="#000" stroke-width="5"/>
<line x1="210" y1="990.1" x2="219" y2="990.1" stroke="#000" stroke-width="5"/>
<line x1="1273" y1="990.1" x2="1264" y2="990.1" stroke="#000" stroke-width="5"/>
<line x1="210" y1="826.5" x2="219" y2="826.5" stroke="#000" stroke-width="5"/>
<line x1="1273" y1="826.5" x2="1264" y2="826.5" stroke="#000" stroke-width="5"/>
<line x1="210" y1="662.8" x2="219" y2="662.8" stroke="#000" stroke-width="5"/>
<line x1="1273" y1="662.8" x2="1264" y2="662.8" stroke="#000" stroke-width="5"/>
<line x1="210" y1="499.1" x2="219" y2="499.1" stroke="#000" stroke-width="5"/>
<line x1="1273" y1="499.1" x2="1264" y2="499.1" stroke="#000" stroke-width="5"/>
<line x1="210" y1="335.5" x2="219" y2="335.5" stroke="#000" stroke-width="5"/>
<line x1="1273" y1="335.5" x2="1264" y2="335.5" stroke="#000" stroke-width="5"/>
<line x1="210" y1="171.8" x2="219" y2="171.8" stroke="#000" stroke-width="5"/>
<line x1="1273" y1="171.8" x2="1264" y2="171.8" stroke="#000" stroke-width="5"/>
<line x1="254.4" y1="1072.5" x2="254.4" y2="1063.5" stroke="#000" stroke-width="5.5"/>
<line x1="254.4" y1="8" x2="254.4" y2="17" stroke="#000" stroke-width="5.5"/>
<line x1="286.2" y1="1072.5" x2="286.2" y2="1063.5" stroke="#000" stroke-width="5.5"/>
<line x1="286.2" y1="8" x2="286.2" y2="17" stroke="#000" stroke-width="5.5"/>
<line x1="310.9" y1="1072.5" x2="310.9" y2="1063.5" stroke="#000" stroke-width="5.5"/>
<line x1="310.9" y1="8" x2="310.9" y2="17" stroke="#000" stroke-width="5.5"/>
<line x1="331.0" y1="1072.5" x2="331.0" y2="1063.5" stroke="#000" stroke-width="5.5"/>
<line x1="331.0" y1="8" x2="331.0" y2="17" stroke="#000" stroke-width="5.5"/>
<line x1="348.1" y1="1072.5" x2="348.1" y2="1063.5" stroke="#000" stroke-width="5.5"/>
<line x1="348.1" y1="8" x2="348.1" y2="17" stroke="#000" stroke-width="5.5"/>
<line x1="362.8" y1="1072.5" x2="362.8" y2="1063.5" stroke="#000" stroke-width="5.5"/>
<line x1="362.8" y1="8" x2="362.8" y2="17" stroke="#000" stroke-width="5.5"/>
<line x1="375.9" y1="1072.5" x2="375.9" y2="1063.5" stroke="#000" stroke-width="5.5"/>
<line x1="375.9" y1="8" x2="375.9" y2="17" stroke="#000" stroke-width="5.5"/>
<line x1="387.5" y1="1072.5" x2="387.5" y2="1056.5" stroke="#000" stroke-width="5.5"/>
<line x1="387.5" y1="8" x2="387.5" y2="24" stroke="#000" stroke-width="5.5"/>
<line x1="464.1" y1="1072.5" x2="464.1" y2="1063.5" stroke="#000" stroke-width="5.5"/>
<line x1="464.1" y1="8" x2="464.1" y2="17" stroke="#000" stroke-width="5.5"/>
<line x1="508.9" y1="1072.5" x2="508.9" y2="1063.5" stroke="#000" stroke-width="5.5"/>
<line x1="508.9" y1="8" x2="508.9" y2="17" stroke="#000" stroke-width="5.5"/>
<line x1="540.7" y1="1072.5" x2="540.7" y2="1063.5" stroke="#000" stroke-width="5.5"/>
<line x1="540.7" y1="8" x2="540.7" y2="17" stroke="#000" stroke-width="5.5"/>
<line x1="565.4" y1="1072.5" x2="565.4" y2="1063.5" stroke="#000" stroke-width="5.5"/>
<line x1="565.4" y1="8" x2="565.4" y2="17" stroke="#000" stroke-width="5.5"/>
<line x1="585.5" y1="1072.5" x2="585.5" y2="1063.5" stroke="#000" stroke-width="5.5"/>
<line x1="585.5" y1="8" x2="585.5" y2="17" stroke="#000" stroke-width="5.5"/>
<line x1="602.6" y1="1072.5" x2="602.6" y2="1063.5" stroke="#000" stroke-width="5.5"/>
<line x1="602.6" y1="8" x2="602.6" y2="17" stroke="#000" stroke-width="5.5"/>
<line x1="617.3" y1="1072.5" x2="617.3" y2="1063.5" stroke="#000" stroke-width="5.5"/>
<line x1="617.3" y1="8" x2="617.3" y2="17" stroke="#000" stroke-width="5.5"/>
<line x1="630.4" y1="1072.5" x2="630.4" y2="1063.5" stroke="#000" stroke-width="5.5"/>
<line x1="630.4" y1="8" x2="630.4" y2="17" stroke="#000" stroke-width="5.5"/>
<line x1="642.0" y1="1072.5" x2="642.0" y2="1056.5" stroke="#000" stroke-width="5.5"/>
<line x1="642.0" y1="8" x2="642.0" y2="24" stroke="#000" stroke-width="5.5"/>
<line x1="718.6" y1="1072.5" x2="718.6" y2="1063.5" stroke="#000" stroke-width="5.5"/>
<line x1="718.6" y1="8" x2="718.6" y2="17" stroke="#000" stroke-width="5.5"/>
<line x1="763.4" y1="1072.5" x2="763.4" y2="1063.5" stroke="#000" stroke-width="5.5"/>
<line x1="763.4" y1="8" x2="763.4" y2="17" stroke="#000" stroke-width="5.5"/>
<line x1="795.2" y1="1072.5" x2="795.2" y2="1063.5" stroke="#000" stroke-width="5.5"/>
<line x1="795.2" y1="8" x2="795.2" y2="17" stroke="#000" stroke-width="5.5"/>
<line x1="819.9" y1="1072.5" x2="819.9" y2="1063.5" stroke="#000" stroke-width="5.5"/>
<line x1="819.9" y1="8" x2="819.9" y2="17" stroke="#000" stroke-width="5.5"/>
<line x1="840.0" y1="1072.5" x2="840.0" y2="1063.5" stroke="#000" stroke-width="5.5"/>
<line x1="840.0" y1="8" x2="840.0" y2="17" stroke="#000" stroke-width="5.5"/>
<line x1="857.1" y1="1072.5" x2="857.1" y2="1063.5" stroke="#000" stroke-width="5.5"/>
<line x1="857.1" y1="8" x2="857.1" y2="17" stroke="#000" stroke-width="5.5"/>
<line x1="871.8" y1="1072.5" x2="871.8" y2="1063.5" stroke="#000" stroke-width="5.5"/>
<line x1="871.8" y1="8" x2="871.8" y2="17" stroke="#000" stroke-width="5.5"/>
<line x1="884.9" y1="1072.5" x2="884.9" y2="1063.5" stroke="#000" stroke-width="5.5"/>
<line x1="884.9" y1="8" x2="884.9" y2="17" stroke="#000" stroke-width="5.5"/>
<line x1="896.5" y1="1072.5" x2="896.5" y2="1056.5" stroke="#000" stroke-width="5.5"/>
<line x1="896.5" y1="8" x2="896.5" y2="24" stroke="#000" stroke-width="5.5"/>
<line x1="973.1" y1="1072.5" x2="973.1" y2="1063.5" stroke="#000" stroke-width="5.5"/>
<line x1="973.1" y1="8" x2="973.1" y2="17" stroke="#000" stroke-width="5.5"/>
<line x1="1017.9" y1="1072.5" x2="1017.9" y2="1063.5" stroke="#000" stroke-width="5.5"/>
<line x1="1017.9" y1="8" x2="1017.9" y2="17" stroke="#000" stroke-width="5.5"/>
<line x1="1049.7" y1="1072.5" x2="1049.7" y2="1063.5" stroke="#000" stroke-width="5.5"/>
<line x1="1049.7" y1="8" x2="1049.7" y2="17" stroke="#000" stroke-width="5.5"/>
<line x1="1074.4" y1="1072.5" x2="1074.4" y2="1063.5" stroke="#000" stroke-width="5.5"/>
<line x1="1074.4" y1="8" x2="1074.4" y2="17" stroke="#000" stroke-width="5.5"/>
<line x1="1094.5" y1="1072.5" x2="1094.5" y2="1063.5" stroke="#000" stroke-width="5.5"/>
<line x1="1094.5" y1="8" x2="1094.5" y2="17" stroke="#000" stroke-width="5.5"/>
<line x1="1111.6" y1="1072.5" x2="1111.6" y2="1063.5" stroke="#000" stroke-width="5.5"/>
<line x1="1111.6" y1="8" x2="1111.6" y2="17" stroke="#000" stroke-width="5.5"/>
<line x1="1126.3" y1="1072.5" x2="1126.3" y2="1063.5" stroke="#000" stroke-width="5.5"/>
<line x1="1126.3" y1="8" x2="1126.3" y2="17" stroke="#000" stroke-width="5.5"/>
<line x1="1139.4" y1="1072.5" x2="1139.4" y2="1063.5" stroke="#000" stroke-width="5.5"/>
<line x1="1139.4" y1="8" x2="1139.4" y2="17" stroke="#000" stroke-width="5.5"/>
<line x1="1151.0" y1="1072.5" x2="1151.0" y2="1056.5" stroke="#000" stroke-width="5.5"/>
<line x1="1151.0" y1="8" x2="1151.0" y2="24" stroke="#000" stroke-width="5.5"/>
<line x1="1227.6" y1="1072.5" x2="1227.6" y2="1063.5" stroke="#000" stroke-width="5.5"/>
<line x1="1227.6" y1="8" x2="1227.6" y2="17" stroke="#000" stroke-width="5.5"/>
<text x="113.83" y="922.60" font-family="'Liberation Sans', sans-serif" font-size="53.5" fill="#000" >0.4</text>
<text x="113.83" y="758.94" font-family="'Liberation Sans', sans-serif" font-size="53.5" fill="#000" >0.5</text>
<text x="113.83" y="595.28" font-family="'Liberation Sans', sans-serif" font-size="53.5" fill="#000" >0.6</text>
<text x="113.83" y="431.62" font-family="'Liberation Sans', sans-serif" font-size="53.5" fill="#000" >0.7</text>
<text x="113.83" y="267.96" font-family="'Liberation Sans', sans-serif" font-size="53.5" fill="#000" >0.8</text>
<text x="113.83" y="104.30" font-family="'Liberation Sans', sans-serif" font-size="53.5" fill="#000" >0.9</text>
<text x="330.59" y="1131.30" font-family="'Liberation Sans', sans-serif" font-size="53.5" fill="#000">1E-4</text>
<text x="573.31" y="1131.30" font-family="'Liberation Sans', sans-serif" font-size="53.5" fill="#000">0.001</text>
<text x="841.94" y="1131.30" font-family="'Liberation Sans', sans-serif" font-size="53.5" fill="#000">0.01</text>
<text x="1109.31" y="1131.30" font-family="'Liberation Sans', sans-serif" font-size="53.5" fill="#000">0.1</text>
<rect x="752" y="125" width="315" height="86" fill="#c6c6c6"/>
<rect x="742" y="115" width="315" height="86" fill="#fff" stroke="#d8d8d8" stroke-width="2"/>
<rect x="560" y="458.5" width="316" height="86" fill="#c6c6c6"/>
<rect x="550" y="448.5" width="316" height="86" fill="#fff" stroke="#d8d8d8" stroke-width="2"/>
<text x="743.62" y="173.70" font-family="'Liberation Sans', sans-serif" font-size="54" fill="#046bcc" >0.4 mg</text>
<text x="912.85" y="191.60" font-family="'Liberation Sans', sans-serif" font-size="31" fill="#046bcc" >Pt</text>
<text x="946.05" y="173.70" font-family="'Liberation Sans', sans-serif" font-size="54" fill="#046bcc" >/cm</text>
<text x="1034.05" y="146.50" font-family="'Liberation Sans', sans-serif" font-size="31" fill="#046bcc" >2</text>
<text x="551.42" y="507.10" font-family="'Liberation Sans', sans-serif" font-size="54" fill="#e97823" >0.1 mg</text>
<text x="720.65" y="525.00" font-family="'Liberation Sans', sans-serif" font-size="31" fill="#e97823" >Pt</text>
<text x="753.85" y="507.10" font-family="'Liberation Sans', sans-serif" font-size="54" fill="#e97823" >/cm</text>
<text x="841.85" y="479.90" font-family="'Liberation Sans', sans-serif" font-size="31" fill="#e97823" >2</text>
<text transform="translate(1057.5,379) rotate(24.1)" font-family="'Liberation Sans', sans-serif" font-size="44">70 mV/dec</text>
<rect x="231" y="697.8" width="325.6" height="353.1" fill="#fff" stroke="#000" stroke-width="3.5"/>
<circle cx="263" cy="732.8" r="19.5" fill="none" stroke="#000" stroke-width="2.6"/>
<path d="M265,776.3 L287,798.25 L265,820.2 L243.2,798.25 Z" fill="none" stroke="#000" stroke-width="3"/>
<path d="M264.2,854.5 L284.6,888.7 L243.7,888.7 Z" fill="none" stroke="#000" stroke-width="3" stroke-linejoin="miter"/>
<g stroke="#000" stroke-width="2.4"><line x1="261.5" y1="919.5" x2="261.5" y2="958"/><line x1="242" y1="938.8" x2="281.5" y2="938.8"/><line x1="243" y1="920.5" x2="280.5" y2="957"/><line x1="243" y1="957" x2="280.5" y2="920.5"/></g>
<path d="M263.4,992.7 L268.5,1005.0 L281.8,1006.0 L271.6,1014.7 L274.7,1027.6 L263.4,1020.6 L252.1,1027.6 L255.2,1014.7 L245.0,1006.0 L258.3,1005.0 Z" fill="none" stroke="#000" stroke-width="2.8" stroke-linejoin="miter"/>
<text x="304.50" y="754.30" font-family="'Liberation Sans', sans-serif" font-size="56" fill="#000" >TW</text>
<text x="309.82" y="821.60" font-family="'Liberation Sans', sans-serif" font-size="56" fill="#000" >SW</text>
<text x="309.40" y="892.70" font-family="'Liberation Sans', sans-serif" font-size="56" fill="#000" >TW-H</text>
<text x="302.88" y="960.30" font-family="'Liberation Sans', sans-serif" font-size="56" fill="#000" >CP</text>
<text x="305.30" y="1030.30" font-family="'Liberation Sans', sans-serif" font-size="56" fill="#000" >TW-LUPL</text>
<rect x="586" y="974" width="647" height="77.7" fill="#fff" stroke="#000" stroke-width="3.5"/>
<line x1="593" y1="1012.5" x2="640" y2="1012.5" stroke="#000" stroke-width="7"/>
<line x1="683" y1="1012.5" x2="731" y2="1012.5" stroke="#000" stroke-width="7"/>
<circle cx="661.6" cy="1013" r="16.5" fill="#000"/>
<text x="757.70" y="1030.50" font-family="'Liberation Sans', sans-serif" font-size="56" fill="#000" >initial</text>
<line x1="945" y1="1012.8" x2="1003" y2="1012.8" stroke="#000" stroke-width="7" stroke-dasharray="6.5 5.7"/>
<line x1="1041" y1="1012.8" x2="1097" y2="1012.8" stroke="#000" stroke-width="7" stroke-dasharray="6.5 5.7"/>
<circle cx="1021" cy="1012.8" r="14.5" fill="#fff" stroke="#000" stroke-width="2.8"/>
<text x="1112.03" y="1030.50" font-family="'Liberation Sans', sans-serif" font-size="56" fill="#000" >EOT</text>
<text x="572.25" y="1239.30" font-family="'Liberation Sans', sans-serif" font-size="63.5" fill="#000" font-style="italic" >i</text>
<text x="585.88" y="1261.70" font-family="'Liberation Sans', sans-serif" font-size="37.5" fill="#000" >spec</text>
<text x="686.85" y="1238.90" font-family="'Liberation Sans', sans-serif" font-size="64" fill="#000" >[A/cm</text>
<text x="854.38" y="1206.30" font-family="'Liberation Sans', sans-serif" font-size="38" fill="#000" >2</text>
<text x="854.92" y="1262.00" font-family="'Liberation Sans', sans-serif" font-size="37.5" fill="#000" >Pt</text>
<text x="895.25" y="1238.90" font-family="'Liberation Sans', sans-serif" font-size="64" fill="#000" >]</text>
<text transform="rotate(-90)" x="-788.65" y="51.30" font-family="'Liberation Sans', sans-serif" font-size="65" font-style="italic">E</text>
<text transform="rotate(-90)" x="-744.17" y="74.30" font-family="'Liberation Sans', sans-serif" font-size="38.5">iR</text>
<text transform="rotate(-90)" x="-708.62" y="88.00" font-family="'Liberation Sans', sans-serif" font-size="23.5">HFR</text>
<text transform="rotate(-90)" x="-659.25" y="74.30" font-family="'Liberation Sans', sans-serif" font-size="38.5">/R</text>
<text transform="rotate(-90)" x="-621.12" y="88.00" font-family="'Liberation Sans', sans-serif" font-size="23">H</text>
<text transform="rotate(-90)" x="-603.88" y="73.00" font-family="'Liberation Sans', sans-serif" font-size="13">+</text>
<text transform="rotate(-90)" x="-605.08" y="96.60" font-family="'Liberation Sans', sans-serif" font-size="15">cath</text>
<text transform="rotate(-90)" x="-576.55" y="74.30" font-family="'Liberation Sans', sans-serif" font-size="38.5">/R</text>
<text transform="rotate(-90)" x="-537.05" y="85.50" font-family="'Liberation Sans', sans-serif" font-size="21">O</text>
<text transform="rotate(-90)" x="-518.65" y="89.20" font-family="'Liberation Sans', sans-serif" font-size="10.5">2</text>
<text transform="rotate(-90)" x="-512.12" y="85.50" font-family="'Liberation Sans', sans-serif" font-size="21">,</text>
<text transform="rotate(-90)" x="-497.43" y="88.00" font-family="'Liberation Sans', sans-serif" font-size="23">tx</text>
<text transform="rotate(-90)" x="-468.30" y="73.60" font-family="'Liberation Sans', sans-serif" font-size="38.5">-free</text>
<text transform="rotate(-90)" x="-370.35" y="51.30" font-family="'Liberation Sans', sans-serif" font-size="63.5">[V]</text>
</svg>
</body></html>
